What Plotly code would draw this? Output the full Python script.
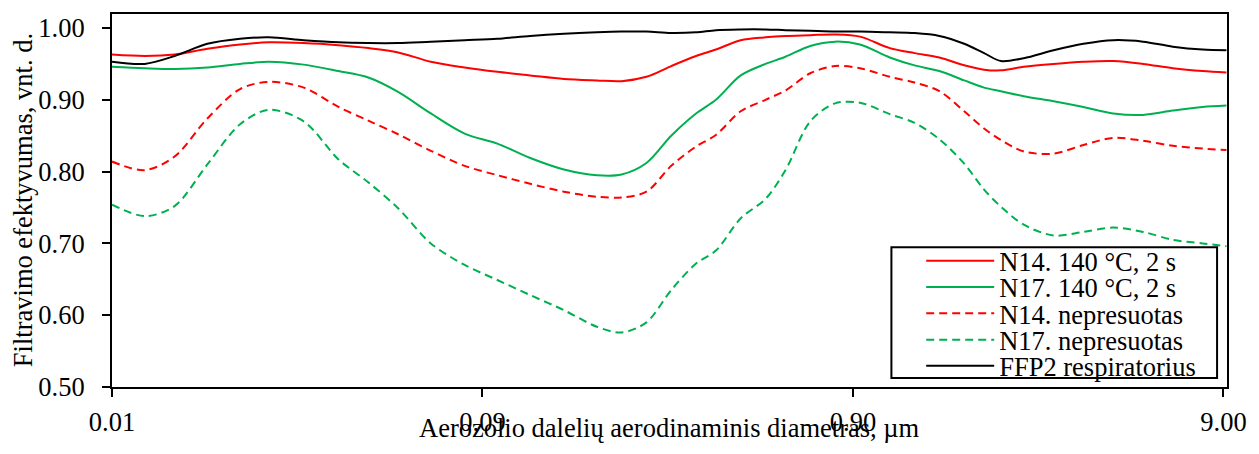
import numpy as np
import plotly.graph_objects as go

# Aerosol particle aerodynamic diameter, µm
diameter = [0.009, 0.01103, 0.01328, 0.01628, 0.01995, 0.02387, 0.02963, 0.03677, 0.04426,
            0.05326, 0.06529, 0.08055, 0.0987, 0.1211, 0.1493, 0.1831, 0.2136, 0.2493,
            0.2908, 0.3394, 0.3839, 0.4480, 0.5227, 0.5915, 0.6901, 0.8052, 0.9397,
            1.131, 1.320, 1.540, 1.797, 2.033, 2.258, 2.602, 3.132, 3.769, 4.537,
            5.460, 6.570, 7.907, 9.167]

n14_140 = [0.963, 0.961, 0.963, 0.971, 0.977, 0.980, 0.979, 0.976, 0.972, 0.966, 0.953,
           0.945, 0.939, 0.934, 0.929, 0.927, 0.926, 0.932, 0.947, 0.961, 0.970, 0.983,
           0.987, 0.989, 0.990, 0.991, 0.988, 0.972, 0.965, 0.959, 0.948, 0.942, 0.941,
           0.946, 0.950, 0.953, 0.954, 0.950, 0.944, 0.940, 0.938]

n17_140 = [0.946, 0.944, 0.943, 0.945, 0.950, 0.953, 0.949, 0.940, 0.931, 0.911, 0.881,
           0.853, 0.839, 0.819, 0.803, 0.795, 0.796, 0.812, 0.850, 0.881, 0.900, 0.934,
           0.950, 0.960, 0.975, 0.981, 0.977, 0.959, 0.948, 0.940, 0.927, 0.917, 0.912,
           0.905, 0.898, 0.890, 0.881, 0.879, 0.885, 0.890, 0.892]

n14_raw = [0.814, 0.802, 0.821, 0.874, 0.915, 0.925, 0.917, 0.890, 0.871, 0.852, 0.829,
           0.808, 0.795, 0.783, 0.772, 0.765, 0.764, 0.772, 0.808, 0.835, 0.851, 0.884,
           0.900, 0.913, 0.937, 0.947, 0.944, 0.932, 0.924, 0.912, 0.884, 0.860, 0.844,
           0.828, 0.825, 0.837, 0.847, 0.843, 0.836, 0.832, 0.830]

n17_raw = [0.754, 0.738, 0.752, 0.810, 0.866, 0.886, 0.870, 0.817, 0.785, 0.749, 0.700,
           0.670, 0.649, 0.628, 0.607, 0.584, 0.576, 0.590, 0.635, 0.672, 0.690, 0.735,
           0.762, 0.802, 0.870, 0.895, 0.896, 0.880, 0.868, 0.845, 0.811, 0.775, 0.751,
           0.726, 0.711, 0.716, 0.722, 0.716, 0.705, 0.700, 0.696]

ffp2 = [0.953, 0.950, 0.961, 0.978, 0.985, 0.987, 0.983, 0.980, 0.979, 0.979, 0.981,
        0.983, 0.985, 0.989, 0.992, 0.994, 0.995, 0.995, 0.993, 0.994, 0.997, 0.998,
        0.998, 0.997, 0.996, 0.995, 0.995, 0.994, 0.993, 0.989, 0.978, 0.965, 0.954,
        0.958, 0.969, 0.978, 0.983, 0.981, 0.974, 0.970, 0.969]

series_names = ["N14. 140 °C, 2 s", "N17. 140 °C, 2 s", "N14. nepresuotas",
                "N17. nepresuotas", "FFP2 respiratorius"]

x_tickvals = [0.009, 0.09, 0.9, 9.0]
x_ticktext = ["0.01", "0.09", "0.90", "9.00"]
y_tickvals = [0.5, 0.6, 0.7, 0.8, 0.9, 1.0]

FONT = "Liberation Serif, Times New Roman, serif"
FS = 26.5
RED = "#FF0000"
GREEN = "#00B050"

styles = [
    dict(color=RED, dash="solid"),
    dict(color=GREEN, dash="solid"),
    dict(color=RED, dash="8px,5px"),
    dict(color=GREEN, dash="8px,5px"),
    dict(color="#000000", dash="solid"),
]
values = [n14_140, n17_140, n14_raw, n17_raw, ffp2]
legend_ids = ["legend", "legend2", "legend3", "legend4", "legend5"]

fig = go.Figure()
for name, vals, st, lg in zip(series_names, values, styles, legend_ids):
    fig.add_trace(go.Scatter(
        x=diameter, y=vals, name=name, mode="lines",
        line=dict(color=st["color"], dash=st["dash"], width=2, shape="spline", smoothing=0.9),
        legend=lg,
    ))

# plot area geometry (px)
W, H = 1259, 454
L, R, T, B = 112, 24, 13, 67
pw, ph = W - L - R, H - T - B

def px_x(px):
    return (px - L) / pw

def px_y(py):
    return (H - B - py) / ph

legend_rows = [260.7, 287.0, 313.3, 340.0, 366.0]
layout_legends = {}
for lg, ry in zip(legend_ids, legend_rows):
    layout_legends[lg] = dict(
        x=px_x(927), y=px_y(ry), xanchor="left", yanchor="middle",
        bgcolor="rgba(0,0,0,0)", borderwidth=0,
        font=dict(family=FONT, size=FS, color="black"),
        itemwidth=68, tracegroupgap=0,
    )

fig.update_layout(
    width=W, height=H,
    margin=dict(l=L, r=R, t=T, b=B, pad=0),
    paper_bgcolor="white", plot_bgcolor="white",
    font=dict(family=FONT, size=FS, color="black"),
    showlegend=True,
    **layout_legends,
    xaxis=dict(
        type="log", range=[np.log10(0.009), np.log10(9.2)],
        tickvals=x_tickvals, ticktext=x_ticktext,
        ticks="outside", ticklen=8, tickwidth=2, tickcolor="black",
        ticklabelstandoff=2,
        showline=True, linecolor="black", linewidth=2, mirror=True,
        showgrid=False, zeroline=False,
        tickfont=dict(family=FONT, size=FS, color="black"),
    ),
    yaxis=dict(
        range=[0.5, 1.0195], tickvals=y_tickvals, tickformat=".2f",
        ticks="outside", ticklen=8, tickwidth=2, tickcolor="black",
        ticklabelstandoff=12,
        showline=True, linecolor="black", linewidth=2, mirror=True,
        showgrid=False, zeroline=False,
        tickfont=dict(family=FONT, size=FS, color="black"),
    ),
    shapes=[dict(
        type="rect", xref="paper", yref="paper",
        x0=px_x(897), x1=px_x(1225), y0=px_y(378), y1=px_y(247),
        line=dict(color="black", width=2), fillcolor="rgba(0,0,0,0)", layer="above",
    )],
    annotations=[
        dict(text="Aerozolio dalelių aerodinaminis diametras, µm", xref="paper", yref="paper",
             x=0.5, y=px_y(428), xanchor="center", yanchor="middle", showarrow=False,
             font=dict(family=FONT, size=FS, color="black")),
        dict(text="Filtravimo efektyvumas, vnt. d.", xref="paper", yref="paper",
             x=px_x(22), y=0.5, xanchor="center", yanchor="middle", textangle=-90,
             showarrow=False, font=dict(family=FONT, size=FS, color="black")),
    ],
)

fig.write_html("out.html")
